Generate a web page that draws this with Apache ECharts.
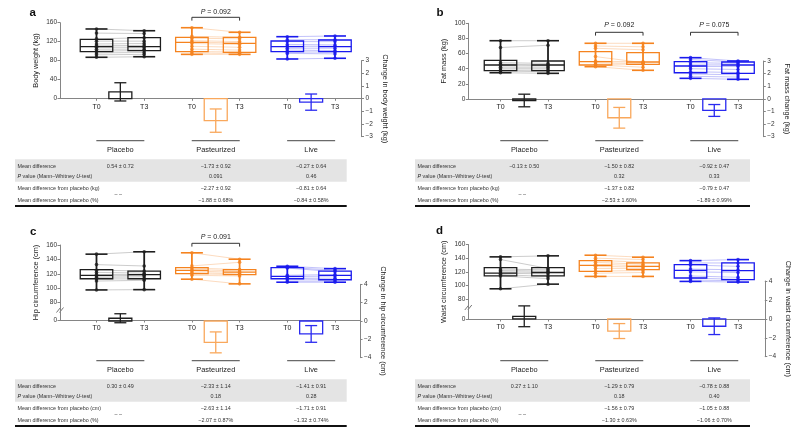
<!DOCTYPE html>
<html><head><meta charset="utf-8">
<script src="https://cdn.jsdelivr.net/npm/echarts@6/dist/echarts.min.js"></script>
<style>html,body{margin:0;padding:0;background:#fff}#main{width:800px;height:436px}</style>
</head><body><div id="main"></div>
<script>
// ---------------- data ----------------
const groups = ['Placebo', 'Pasteurized', 'Live'];
const timeLabels = ['T0', 'T3'];

// box stats [min, Q1, median, Q3, max]; rows: Placebo T0, Placebo T3, Pasteurized T0, Pasteurized T3, Live T0, Live T3
// a: body weight (kg)
const weightBox = [
  [86.8, 98.6, 109.2, 124.9, 146.7], [88, 100.7, 109.2, 128.3, 143],
  [93, 98.6, 118.5, 129, 149.4], [93, 97.4, 116.4, 129, 139.7],
  [83.2, 98.6, 109.2, 121.3, 130.4], [84.7, 98.6, 109.2, 123.4, 131.9]
];
const weightT0 = [
  [146.7, 138, 126, 121, 115, 111, 108, 104, 100, 96, 92, 86.8],
  [149.4, 131, 127, 122, 119, 116, 110, 104, 99, 96, 93],
  [130.4, 124, 120, 114, 110, 106, 102, 98, 95, 83.2]
];
const weightT3 = [
  [143, 137, 128, 121, 116, 112, 108, 104, 101, 97, 93, 88],
  [139.7, 129, 126, 120, 117, 114, 108, 102, 98, 95, 93],
  [131.9, 124, 120, 113, 110, 106, 101, 98, 94, 84.7]
];
const weightChange = [0.54, -1.73, -0.27];
const weightChangeSE = [0.72, 0.92, 0.64];
const weightP = [null, '0.091', '0.46'];
const weightVsPlacebo = [null, [-2.27, 0.92], [-0.81, 0.64]];
const weightVsPlaceboPct = [null, [-1.88, 0.68], [-0.84, 0.58]];
const weightBracketP = [null, '0.092', null];

// b: fat mass (kg)
const fatBox = [
  [34.7, 37.4, 44.9, 51.1, 77], [33.9, 37.4, 44.9, 50.2, 77],
  [42.7, 44.9, 49.3, 62.5, 73.6], [37.9, 45.8, 48.9, 61.2, 73.6],
  [27.3, 34.7, 43.6, 49.3, 54.6], [26, 33.9, 44.9, 48.9, 50.2]
];
const fatT0 = [
  [77, 68, 48, 46, 44, 42, 40, 38, 37, 34.7],
  [73.6, 70, 67, 56, 50, 48, 46, 45, 42.7],
  [54.6, 52, 48, 45, 43, 40, 36, 33, 30, 27.3]
];
const fatT3 = [
  [77, 71, 47, 45, 44, 42, 40, 38, 36, 33.9],
  [73.6, 69, 65, 48, 49, 47, 46, 42, 37.9],
  [50.2, 49, 47, 45, 43, 39, 35, 32, 29, 26]
];
const fatChange = [-0.13, -1.50, -0.92];
const fatChangeSE = [0.50, 0.82, 0.47];
const fatP = [null, '0.32', '0.33'];
const fatVsPlacebo = [null, [-1.37, 0.82], [-0.79, 0.47]];
const fatVsPlaceboPct = [null, [-2.53, 1.60], [-1.89, 0.99]];
const fatBracketP = [null, '0.092', '0.075'];

// c: hip circumference (cm)
const hipBox = [
  [97.7, 113.2, 117.8, 125.8, 147.3], [98.1, 113.2, 118.8, 123.9, 150.6],
  [112.6, 120.2, 124.8, 128.6, 149.2], [106.1, 118.8, 122.5, 125.8, 140.3],
  [108.4, 113.2, 116.4, 128.6, 130.5], [108.4, 111.8, 117.8, 123.9, 127.2]
];
const hipT0 = [
  [147.3, 132.8, 125, 122, 119, 117, 115, 113, 110, 97.7],
  [149.2, 131, 128, 126, 124, 122, 120, 118, 112.6],
  [130.5, 129, 128, 118, 116, 114, 113, 110, 108.4]
];
const hipT3 = [
  [150.6, 130.9, 124, 121, 119, 118, 116, 113, 111, 98.1],
  [140.3, 136, 126, 124, 122, 120, 119, 117, 106.1],
  [127.2, 125, 123, 119, 117, 114, 112, 110, 108.4]
];
const hipChange = [0.30, -2.33, -1.41];
const hipChangeSE = [0.49, 1.14, 0.91];
const hipP = [null, '0.18', '0.28'];
const hipVsPlacebo = [null, [-2.63, 1.14], [-1.71, 0.91]];
const hipVsPlaceboPct = [null, [-2.07, 0.87], [-1.32, 0.74]];
const hipBracketP = [null, '0.091', null];
const hipTickLabels = [0, 80, 100, 120, 140, 160];
const hipBreakAt = 56;    // broken axis: the "0" tick sits at this axis position

// d: waist circumference (cm)
const waistBox = [
  [95.2, 114.2, 118, 126.3, 141.9], [102, 114.2, 119, 126.3, 143.4],
  [113.3, 120.7, 129.6, 136.4, 144.3], [113.3, 123.2, 128, 133, 141.4],
  [106, 111, 122, 130.5, 136.4], [105, 108.5, 121.7, 133, 137.9]
];
const waistT0 = [
  [141.9, 138, 124, 122, 120, 118, 116, 114, 95.2],
  [144.3, 140, 137, 134, 131, 128, 125, 121, 118, 113.3],
  [136.4, 133, 130, 124, 120, 114, 111, 108, 106]
];
const waistT3 = [
  [143.4, 125, 123, 121, 119, 117, 113, 110, 102],
  [141.4, 138, 134, 131, 129, 127, 125, 122, 119, 113.3],
  [137.9, 133, 128, 123, 119, 112, 109, 107, 105]
];
const waistChange = [0.27, -1.29, -0.78];
const waistChangeSE = [1.10, 0.79, 0.88];
const waistP = [null, '0.18', '0.40'];
const waistVsPlacebo = [null, [-1.56, 0.79], [-1.05, 0.88]];
const waistVsPlaceboPct = [null, [-1.30, 0.63], [-1.06, 0.70]];
const waistBracketP = [null, null, null];
const waistTickLabels = [0, 80, 100, 120, 140, 160];
const waistBreakAt = 51;

// ---------------- styles / layout ----------------
const FONT = '"Liberation Sans", Arial, Helvetica, sans-serif';
const groupColors = ['#1e1e1e', '#F5831F', '#1A1AEE'];
const lineColors = ['rgba(110,110,110,0.5)', 'rgba(246,140,50,0.45)', 'rgba(60,60,240,0.45)'];
const barColors = ['#1e1e1e', '#F9A85C', '#2A2AF0'];
const AXIS = '#858585';
const BOX_W = 32.5, CAP_W = 22, BAR_W = 23, ERR_CAP = 12;

const panels = [
  {letter: 'a', box: weightBox, t0: weightT0, t3: weightT3, chg: weightChange, se: weightChangeSE, p: weightP,
   vs: weightVsPlacebo, vsPct: weightVsPlaceboPct, br: weightBracketP, unit: 'kg',
   yName: 'Body weight (kg)', rName: 'Change in body weight (kg)',
   yMin: 0, yMax: 160, yInt: 40, rMin: -3, rMax: 3, rInt: 1,
   L: {left: 60, width: 301.5, boxTop: 22.7, boxH: 75.6, barTop: 60.7, barH: 76, xMin: -0.765, xMax: 5.556,
       letterX: 29.5, letterY: 13, brY: 17.3, brTextY: 12.5, gLineY: 140.7, tableTop: 159.3, bandX: 15, bandW: 331.7}},
  {letter: 'b', box: fatBox, t0: fatT0, t3: fatT3, chg: fatChange, se: fatChangeSE, p: fatP,
   vs: fatVsPlacebo, vsPct: fatVsPlaceboPct, br: fatBracketP, unit: 'kg',
   yName: 'Fat mass (kg)', rName: 'Fat mass change (kg)',
   yMin: 0, yMax: 100, yInt: 20, rMin: -3, rMax: 3, rInt: 1,
   L: {left: 468.3, width: 295, boxTop: 23.3, boxH: 75.7, barTop: 61, barH: 75.7, xMin: -0.678, xMax: 5.532,
       letterX: 436.5, letterY: 13, brY: 32.3, brTextY: 25, gLineY: 140.7, tableTop: 159.3, bandX: 415, bandW: 335}},
  {letter: 'c', box: hipBox, t0: hipT0, t3: hipT3, chg: hipChange, se: hipChangeSE, p: hipP,
   vs: hipVsPlacebo, vsPct: hipVsPlaceboPct, br: hipBracketP, unit: 'cm',
   yName: 'Hip circumference (cm)', rName: 'Change in hip circumference (cm)',
   ticks: hipTickLabels, breakAt: hipBreakAt, yMax: 160, rMin: -4, rMax: 4, rInt: 2,
   L: {left: 60, width: 300, boxTop: 245, boxH: 75, barTop: 284.3, barH: 73.4, xMin: -0.765, xMax: 5.524,
       letterX: 30, letterY: 231.5, brY: 243.3, brTextY: 237.5, gLineY: 360.7, tableTop: 379.3, bandX: 15, bandW: 331.7,
       breakY: 310}},
  {letter: 'd', box: waistBox, t0: waistT0, t3: waistT3, chg: waistChange, se: waistChangeSE, p: waistP,
   vs: waistVsPlacebo, vsPct: waistVsPlaceboPct, br: waistBracketP, unit: 'cm',
   yName: 'Waist circumference (cm)', rName: 'Change in waist circumference (cm)',
   ticks: waistTickLabels, breakAt: waistBreakAt, yMax: 160, rMin: -4, rMax: 4, rInt: 2,
   L: {left: 468.3, width: 296.5, boxTop: 244.5, boxH: 74.5, barTop: 281, barH: 75.7, xMin: -0.678, xMax: 5.564,
       letterX: 436, letterY: 230.5, brY: 0, brTextY: 0, gLineY: 360.7, tableTop: 379.3, bandX: 415, bandW: 335,
       breakY: 307.5}}
];

const minus = v => (v < 0 ? '\u2212' : '') + Math.abs(v);
const fmtPM = (m, s, pct) => (m < 0 ? '\u2212' : '') + Math.abs(m).toFixed(2) + ' \u00b1 ' + s.toFixed(2) + (pct ? '%' : '');

// ---------------- render helpers ----------------
function renderBox(params, api) {
  const x = api.value(0), g = api.value(6), c = groupColors[g];
  const pMin = api.coord([x, api.value(1)]), pQ1 = api.coord([x, api.value(2)]);
  const pMed = api.coord([x, api.value(3)]), pQ3 = api.coord([x, api.value(4)]);
  const pMax = api.coord([x, api.value(5)]);
  const cx = pMed[0], hw = BOX_W / 2, cw = CAP_W / 2;
  return {type: 'group', children: [
    {type: 'rect', shape: {x: cx - hw, y: pQ3[1], width: BOX_W, height: pQ1[1] - pQ3[1]},
     style: {fill: 'none', stroke: c, lineWidth: 1.3}},
    {type: 'line', shape: {x1: cx - hw, y1: pMed[1], x2: cx + hw, y2: pMed[1]}, style: {stroke: c, lineWidth: 1.3}},
    {type: 'line', shape: {x1: cx, y1: pMax[1], x2: cx, y2: pMin[1]}, style: {stroke: c, lineWidth: 1.8}},
    {type: 'line', shape: {x1: cx - cw, y1: pMax[1], x2: cx + cw, y2: pMax[1]}, style: {stroke: c, lineWidth: 1.6}},
    {type: 'line', shape: {x1: cx - cw, y1: pMin[1], x2: cx + cw, y2: pMin[1]}, style: {stroke: c, lineWidth: 1.6}}
  ]};
}
function renderPair(params, api) {
  const a = api.coord([api.value(0), api.value(1)]), b = api.coord([api.value(2), api.value(3)]);
  return {type: 'line', shape: {x1: a[0], y1: a[1], x2: b[0], y2: b[1]},
          style: {stroke: lineColors[api.value(4)], lineWidth: 0.7}};
}
function renderBar(params, api) {
  const x = api.value(0), m = api.value(1), s = api.value(2), c = barColors[api.value(3)];
  const p0 = api.coord([x, 0]), pm = api.coord([x, m]), pHi = api.coord([x, m + s]), pLo = api.coord([x, m - s]);
  const cx = p0[0], hw = BAR_W / 2, ec = ERR_CAP / 2;
  return {type: 'group', children: [
    {type: 'rect', shape: {x: cx - hw, y: Math.min(p0[1], pm[1]), width: BAR_W, height: Math.abs(pm[1] - p0[1])},
     style: {fill: 'none', stroke: c, lineWidth: 1.3}},
    {type: 'line', shape: {x1: cx, y1: pHi[1], x2: cx, y2: pLo[1]}, style: {stroke: c, lineWidth: 1.3}},
    {type: 'line', shape: {x1: cx - ec, y1: pHi[1], x2: cx + ec, y2: pHi[1]}, style: {stroke: c, lineWidth: 1.3}},
    {type: 'line', shape: {x1: cx - ec, y1: pLo[1], x2: cx + ec, y2: pLo[1]}, style: {stroke: c, lineWidth: 1.3}}
  ]};
}

// ---------------- option ----------------
const grid = [], xAxis = [], yAxis = [], series = [];
const tickVals = [0, 1, 2, 3, 4, 5];
panels.forEach((P, i) => {
  const L = P.L, bi = 2 * i, ci = 2 * i + 1;
  grid.push({left: L.left, top: L.boxTop, width: L.width, height: L.boxH});
  grid.push({left: L.left, top: L.barTop, width: L.width, height: L.barH});
  xAxis.push({gridIndex: bi, type: 'value', min: L.xMin, max: L.xMax, splitLine: {show: false},
    axisLine: {show: true, onZero: false, lineStyle: {color: AXIS, width: 1}},
    axisTick: {show: true, customValues: tickVals, length: 2.5, lineStyle: {color: AXIS}},
    axisLabel: {customValues: tickVals, formatter: v => timeLabels[Math.round(v) % 2],
                fontSize: 7, color: '#222', margin: 5, fontFamily: FONT}});
  xAxis.push({gridIndex: ci, type: 'value', min: L.xMin, max: L.xMax, show: false});
  const yLeft = {gridIndex: bi, type: 'value', position: 'left', max: P.yMax, splitLine: {show: false},
    axisLine: {show: true, onZero: false, lineStyle: {color: AXIS, width: 1}},
    axisTick: {show: true, length: 2.5, lineStyle: {color: AXIS}},
    axisLabel: {fontSize: 6.5, color: '#333', margin: 3, fontFamily: FONT},
    name: P.yName, nameLocation: 'middle', nameRotate: 90, nameGap: 21,
    nameTextStyle: {fontSize: 7.3, color: '#222', fontFamily: FONT}};
  if (P.ticks) {
    const cv = P.ticks.map(v => v === 0 ? P.breakAt : v);
    yLeft.min = P.breakAt;
    yLeft.axisTick.customValues = cv;
    yLeft.axisLabel.customValues = cv;
    yLeft.axisLabel.formatter = v => (v === P.breakAt ? '0' : String(v));
  } else {
    yLeft.min = P.yMin; yLeft.interval = P.yInt;
  }
  yAxis.push(yLeft);
  yAxis.push({gridIndex: ci, type: 'value', position: 'right', min: P.rMin, max: P.rMax, interval: P.rInt,
    splitLine: {show: false},
    axisLine: {show: true, onZero: false, lineStyle: {color: AXIS, width: 1}},
    axisTick: {show: true, length: 2.5, lineStyle: {color: AXIS}},
    axisLabel: {fontSize: 6.5, color: '#333', margin: 4, fontFamily: FONT, formatter: v => minus(v)},
    name: P.rName, nameLocation: 'middle', nameRotate: -90, nameGap: 20,
    nameTextStyle: {fontSize: 7.3, color: '#222', fontFamily: FONT}});

  const pairs = [], dots = [];
  groups.forEach((g, gi) => {
    P.t0[gi].forEach((v, k) => {
      pairs.push([gi * 2, v, gi * 2 + 1, P.t3[gi][k], gi]);
      dots.push([gi * 2, v, gi]);
      dots.push([gi * 2 + 1, P.t3[gi][k], gi]);
    });
  });
  const boxes = P.box.map((b, k) => [k, ...b, Math.floor(k / 2)]);
  const bars = P.chg.map((m, gi) => [gi * 2 + 0.5, m, P.se[gi], gi]);
  series.push({type: 'custom', xAxisIndex: bi, yAxisIndex: bi, renderItem: renderPair, data: pairs, z: 1, silent: true});
  series.push({type: 'custom', xAxisIndex: bi, yAxisIndex: bi, renderItem: renderBox, data: boxes, z: 2, silent: true});
  series.push({type: 'scatter', xAxisIndex: bi, yAxisIndex: bi, data: dots, symbol: 'circle', symbolSize: 3.6, z: 3,
    itemStyle: {color: p => groupColors[p.data[2]]}, silent: true});
  series.push({type: 'custom', xAxisIndex: ci, yAxisIndex: ci, renderItem: renderBar, data: bars, z: 2, silent: true});
});

const chart = echarts.init(document.getElementById('main'), null, {renderer: 'canvas', width: 800, height: 436});
chart.setOption({animation: false, backgroundColor: '#fff', grid, xAxis, yAxis, series});

// ---------------- annotations & tables ----------------
const gfx = [];
const txt = (x, y, text, o) => Object.assign({type: 'text', x, y, silent: true,
  style: Object.assign({text, fontSize: 5.4, fontFamily: FONT, fill: '#333', align: 'left', verticalAlign: 'middle'}, o || {})});
const ital = fs => ({i: {fontStyle: 'italic', fontSize: fs, fontFamily: FONT, fill: '#222'}});
panels.forEach((P, i) => {
  const L = P.L, bi = 2 * i;
  const px = v => chart.convertToPixel({xAxisIndex: bi}, v);
  gfx.push(txt(L.letterX, L.letterY, P.letter, {fontSize: 11.5, fontWeight: 'bold', fill: '#111'}));
  // group underline + names
  groups.forEach((g, gi) => {
    const c = px(gi * 2 + 0.5);
    gfx.push({type: 'line', silent: true, shape: {x1: c - 24, y1: L.gLineY, x2: c + 24, y2: L.gLineY},
      style: {stroke: '#6a6a6a', lineWidth: 1.3}});
    gfx.push(txt(c, L.gLineY + 8.8, g, {fontSize: 7.4, align: 'center', fill: '#222'}));
  });
  // P-value brackets
  P.br.forEach((t, gi) => {
    if (!t) return;
    const x0 = px(gi * 2), x1 = px(gi * 2 + 1), y = L.brY;
    gfx.push({type: 'polyline', silent: true, shape: {points: [[x0, y + 3.3], [x0, y], [x1, y], [x1, y + 3.3]]},
      style: {stroke: '#333', lineWidth: 1, fill: null}});
    gfx.push(txt((x0 + x1) / 2, L.brTextY, '{i|P} = ' + t,
      {fontSize: 7, align: 'center', fill: '#222', rich: ital(7)}));
  });
  // axis break marks
  if (L.breakY) {
    [-1.5, 1.5].forEach(dx => gfx.push({type: 'line', silent: true,
      shape: {x1: L.left + dx - 2, y1: L.breakY + 2.5, x2: L.left + dx + 2, y2: L.breakY - 2.5},
      style: {stroke: '#666', lineWidth: 0.9}}));
  }
  // table
  const T = L.tableTop;
  gfx.push({type: 'rect', silent: true, shape: {x: L.bandX, y: T, width: L.bandW, height: 22.4}, style: {fill: '#e4e4e4'}, z: -1});
  const lx = L.bandX + 2.5;
  gfx.push(txt(lx, T + 7.4, 'Mean difference'));
  gfx.push(txt(lx, T + 17.4, '{i|P} value (Mann\u2013Whitney {i|U}-test)', {rich: ital(5.4)}));
  gfx.push(txt(lx, T + 29.7, 'Mean difference from placebo (' + P.unit + ')'));
  gfx.push(txt(lx, T + 41.4, 'Mean difference from placebo (%)'));
  groups.forEach((g, gi) => {
    const c = px(gi * 2 + 0.5);
    gfx.push(txt(c, T + 7.4, fmtPM(P.chg[gi], P.se[gi]), {align: 'center'}));
    if (P.p[gi]) gfx.push(txt(c, T + 17.4, P.p[gi], {align: 'center'}));
    if (P.vs[gi]) gfx.push(txt(c, T + 29.7, fmtPM(P.vs[gi][0], P.vs[gi][1]), {align: 'center'}));
    else gfx.push(txt(c - 2, T + 35.7, '\u2013 \u2013', {align: 'center'}));
    if (P.vsPct[gi]) gfx.push(txt(c, T + 41.4, fmtPM(P.vsPct[gi][0], P.vsPct[gi][1], true), {align: 'center'}));
  });
  gfx.push({type: 'line', silent: true, shape: {x1: L.bandX, y1: T + 46.7, x2: L.bandX + L.bandW, y2: T + 46.7},
    style: {stroke: '#111', lineWidth: 1.8}});
});
chart.setOption({graphic: gfx});
</script>
</body></html>
